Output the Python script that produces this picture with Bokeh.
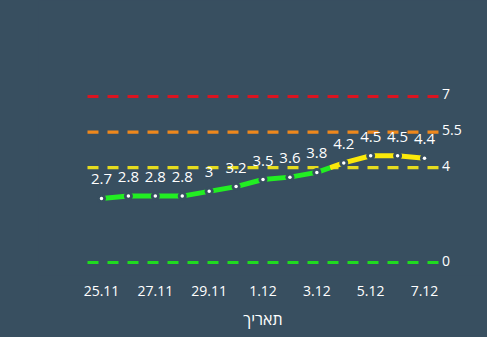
from bokeh.plotting import figure
from bokeh.models import FixedTicker, Range1d
from bokeh.core.properties import value
from bokeh.embed import file_html
from bokeh.resources import INLINE

dates = ["25.11", "26.11", "27.11", "28.11", "29.11", "30.11",
         "1.12", "2.12", "3.12", "4.12", "5.12", "6.12", "7.12"]
values = [2.7, 2.8, 2.8, 2.8, 3.0, 3.2, 3.5, 3.6, 3.8, 4.2, 4.5, 4.5, 4.4]
value_labels = ["2.7", "2.8", "2.8", "2.8", "3", "3.2", "3.5", "3.6", "3.8", "4.2", "4.5", "4.5", "4.4"]
thresholds = [7, 5.5, 4, 0]
threshold_labels = ["7", "5.5", "4", "0"]
threshold_colors = ["#dc1420", "#ee881c", "#e6dc1e", "#1fdc1f"]
split_level = 4

BG = "#384f60"
FONT = "Open Sans"

xs = list(range(len(values)))

p = figure(width=487, height=337, output_backend="svg", toolbar_location=None,
           x_range=Range1d(-2.34, 14.34), y_range=Range1d(-0.548, 11.048),
           min_border_top=0, min_border_bottom=62, min_border_left=38, min_border_right=0)
p.background_fill_color = BG
p.border_fill_color = BG
p.outline_line_color = None
p.styles = {"background-color": BG}
p.grid.visible = False
p.yaxis.visible = False

# threshold lines
x0, x1 = -0.52, len(values) - 1 + 0.52
for t, lab, c in zip(thresholds, threshold_labels, threshold_colors):
    p.line([x0, x1], [t, t], line_color=c, line_width=3.2, line_dash="11 9")
p.text(x=[x1] * len(thresholds), y=thresholds, text=threshold_labels,
       x_offset=3.5, y_offset=-2, text_color="white", text_font=value(FONT),
       text_font_size="14px", text_baseline="middle", text_align="left")

# split main line at the level crossing
gx, gy, yx, yy = [], [], [], []
for i, v in enumerate(values):
    if v <= split_level:
        gx.append(xs[i]); gy.append(v)
    if v >= split_level:
        yx.append(xs[i]); yy.append(v)
    if i + 1 < len(values):
        a, b = v, values[i + 1]
        if (a - split_level) * (b - split_level) < 0:
            tt = (split_level - a) / (b - a)
            cx = xs[i] + tt * (xs[i + 1] - xs[i])
            gx.append(cx); gy.append(split_level)
            yx.append(cx); yy.append(split_level)

gpts = sorted(zip(gx, gy))
ypts = sorted(zip(yx, yy))
p.line([a for a, _ in gpts], [b for _, b in gpts], line_color="#22ee22", line_width=5)
p.line([a for a, _ in ypts], [b for _, b in ypts], line_color="#fbe90a", line_width=5)
p.scatter(xs, values, size=9, fill_color=BG, line_color=None)
p.scatter(xs, values, size=3.5, fill_color="white", line_color=None)

p.text(x=xs, y=values, text=value_labels, y_offset=-19, text_color="white",
       text_font=value(FONT), text_font_size="15px", text_align="center",
       text_baseline="alphabetic")

ax = p.xaxis[0]
ax.ticker = FixedTicker(ticks=xs[::2])
ax.major_label_overrides = {i: dates[i] for i in xs}
ax.axis_line_color = None
ax.major_tick_line_color = None
ax.minor_tick_line_color = None
ax.major_label_text_color = "white"
ax.major_label_text_font = FONT
ax.major_label_text_font_size = "14px"
ax.major_label_standoff = 4
ax.axis_label = "תאריך"
ax.axis_label_text_color = "white"
ax.axis_label_text_font = FONT
ax.axis_label_text_font_size = "16px"
ax.axis_label_text_font_style = "normal"
ax.axis_label_standoff = 9

open("out.html", "w").write(file_html(p, INLINE))
